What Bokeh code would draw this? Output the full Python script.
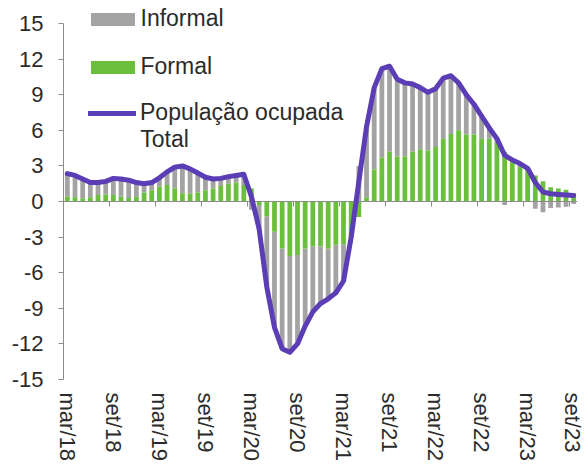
from bokeh.plotting import figure
from bokeh.models import (Range1d, LinearAxis, FixedTicker, ColumnDataSource, Legend,
                          LegendItem, Label)
from bokeh.embed import file_html
from bokeh.resources import INLINE

# ---- data (annual % change, moving quarter) ----
months = ["mar/18", "abr/18", "mai/18", "jun/18", "jul/18", "ago/18", "set/18", "out/18", "nov/18", "dez/18",
          "jan/19", "fev/19", "mar/19", "abr/19", "mai/19", "jun/19", "jul/19", "ago/19", "set/19", "out/19",
          "nov/19", "dez/19", "jan/20", "fev/20", "mar/20", "abr/20", "mai/20", "jun/20", "jul/20", "ago/20",
          "set/20", "out/20", "nov/20", "dez/20", "jan/21", "fev/21", "mar/21", "abr/21", "mai/21", "jun/21",
          "jul/21", "ago/21", "set/21", "out/21", "nov/21", "dez/21", "jan/22", "fev/22", "mar/22", "abr/22",
          "mai/22", "jun/22", "jul/22", "ago/22", "set/22", "out/22", "nov/22", "dez/22", "jan/23", "fev/23",
          "mar/23", "abr/23", "mai/23", "jun/23", "jul/23", "ago/23", "set/23"]

formal = [0.4, 0.35, 0.25, 0.35, 0.55, 0.6, 0.55, 0.4, 0.3, 0.4,
          0.75, 0.95, 1.25, 1.4, 1.1, 0.7, 0.65, 0.75, 0.95, 1.1,
          1.3, 1.5, 1.6, 1.4, 1.1, -0.3, -1.25, -2.55, -3.95, -4.6,
          -4.5, -3.95, -3.8, -3.8, -3.95, -3.65, -3.6, -2.8, -1.3, 0.35,
          2.7, 3.7, 4.2, 3.8, 3.8, 4.2, 4.4, 4.3, 4.6, 5.3,
          5.7, 6.0, 5.65, 5.65, 5.3, 5.3, 5.0, 4.2, 3.3, 2.9,
          2.5, 2.2, 1.7, 1.2, 1.1, 1.0, 0.7]

total = [2.35, 2.2, 1.9, 1.6, 1.6, 1.7, 1.95, 1.9, 1.8, 1.6,
         1.5, 1.6, 2.0, 2.5, 2.9, 3.0, 2.75, 2.4, 2.05, 1.9,
         1.95, 2.1, 2.2, 2.3, 0.4, -2.3, -7.2, -10.6, -12.4, -12.7,
         -12.0, -10.5, -9.3, -8.6, -8.2, -7.7, -6.7, -3.0, 1.7, 6.3,
         9.6, 11.2, 11.4, 10.3, 10.0, 9.9, 9.6, 9.2, 9.5, 10.4,
         10.6, 10.0, 9.0, 8.2, 7.2, 6.2, 5.3, 3.9, 3.5, 3.2,
         2.8, 1.6, 0.8, 0.65, 0.6, 0.55, 0.5]

informal = [round(t - f, 2) for t, f in zip(total, formal)]

tick_labels = months[::6]
y_ticks = [-15, -12, -9, -6, -3, 0, 3, 6, 9, 12, 15]

# ---- stacking (positives and negatives stacked separately) ----
x = list(range(len(months)))
f_bot = [min(f, 0) for f in formal]
f_top = [max(f, 0) for f in formal]
i_bot, i_top = [], []
for f, v in zip(formal, informal):
    if v >= 0:
        i_bot.append(max(f, 0)); i_top.append(max(f, 0) + v)
    else:
        i_top.append(min(f, 0)); i_bot.append(min(f, 0) + v)

src = ColumnDataSource(dict(x=x, f_bot=f_bot, f_top=f_top, i_bot=i_bot, i_top=i_top, total=total))

FONT = "Liberation Sans"
TXT = "#2b2b2b"
AX = "#8c8c8c"
GRAY = "#a3a3a3"
GREEN = "#6abf3d"
PURPLE = "#5b3db5"

# frame extends a little above 15 so the legend (which overhangs the top tick) is not clipped
p = figure(width=584, height=466, x_range=Range1d(-0.5, len(months) - 0.5), y_range=Range1d(-15, 16.52),
           output_backend="svg", toolbar_location=None, x_axis_type=None,
           min_border_left=63, min_border_right=7, min_border_top=5, min_border_bottom=87)
p.grid.visible = False
p.outline_line_color = None
p.background_fill_color = "white"

r_inf = p.vbar(x="x", bottom="i_bot", top="i_top", width=0.62, source=src, fill_color=GRAY, line_color=None)
r_for = p.vbar(x="x", bottom="f_bot", top="f_top", width=0.62, source=src, fill_color=GREEN, line_color=None)
r_tot = p.line(x="x", y="total", source=src, line_color=PURPLE, line_width=5,
               line_join="round", line_cap="round", level="overlay")

# y axis
yax = p.yaxis[0]
yax.ticker = FixedTicker(ticks=y_ticks)
yax.bounds = (-15, 15)
yax.major_label_overrides = {t: str(t) for t in y_ticks}
yax.major_label_text_font = FONT
yax.major_label_text_font_size = "22px"
yax.major_label_text_color = TXT
yax.axis_line_color = AX
yax.major_tick_line_color = AX
yax.major_tick_in = 0
yax.major_tick_out = 5
yax.minor_tick_line_color = None
yax.major_label_standoff = 15

# zero line with tick marks at category boundaries (no labels)
zero_axis = LinearAxis(fixed_location=0, ticker=FixedTicker(ticks=[i - 0.5 for i in range(0, len(months), 6)]),
                       axis_line_color=AX, major_tick_line_color=AX, major_tick_in=0, major_tick_out=5,
                       minor_tick_line_color=None, major_label_text_color=None,
                       major_label_text_font_size="1px")
p.add_layout(zero_axis, "below")

# labels axis at the bottom (labels at category centres)
lab_axis = LinearAxis(ticker=FixedTicker(ticks=x[::6]),
                      major_label_overrides={i: lab for i, lab in zip(x[::6], tick_labels)},
                      axis_line_color=None, major_tick_line_color=None, major_tick_in=0, major_tick_out=0,
                      minor_tick_line_color=None, major_label_orientation="vertical",
                      major_label_standoff=13, major_label_text_font=FONT,
                      major_label_text_font_size="22px", major_label_text_color=TXT)
p.add_layout(lab_axis, "below")

legend_bars = Legend(items=[LegendItem(label="Informal", renderers=[r_inf]),
                            LegendItem(label="Formal", renderers=[r_for])],
                     location=(21.5, 299), orientation="vertical", padding=0, margin=0, spacing=21,
                     glyph_width=55, glyph_height=16, label_height=26, label_standoff=1,
                     label_text_font=FONT, label_text_font_size="23px", label_text_color=TXT,
                     background_fill_alpha=0, border_line_color=None)
legend_line = Legend(items=[LegendItem(label="População ocupada", renderers=[r_tot])],
                     location=(25, 253), orientation="vertical", padding=0, margin=0,
                     glyph_width=48, glyph_height=12, label_height=26, label_standoff=4,
                     label_text_font=FONT, label_text_font_size="23px", label_text_color=TXT,
                     background_fill_alpha=0, border_line_color=None)
p.add_layout(legend_bars)
p.add_layout(legend_line)

p.add_layout(Label(x=9.5, y=5.25, text="Total", text_font=FONT, text_font_size="23px",
                   text_color=TXT, text_baseline="alphabetic"))

open("out.html", "w").write(file_html(p, INLINE))
